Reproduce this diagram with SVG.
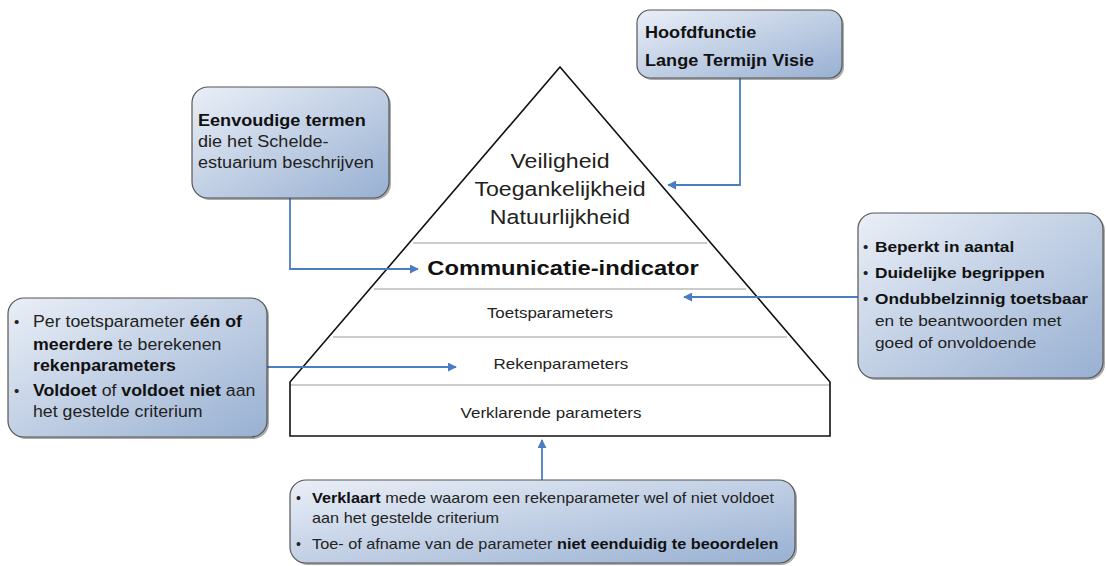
<svg xmlns="http://www.w3.org/2000/svg" width="1106" height="566" viewBox="0 0 1106 566">
<defs>
<linearGradient id="bg" x1="0" y1="0" x2="1" y2="1">
<stop offset="0" stop-color="#eaeff7"/>
<stop offset="1" stop-color="#98b0d2"/>
</linearGradient>
<marker id="ah" viewBox="0 0 10 10" refX="9" refY="5" markerWidth="5" markerHeight="5" orient="auto" markerUnits="strokeWidth">
<path d="M0,0 L10,5 L0,10 z" fill="#4a7cc2"/>
</marker>
</defs>
<style>
.box{fill:url(#bg);stroke:#555;stroke-width:1.2}
.sh{fill:#444;opacity:0.45}
.t{font-family:"Liberation Sans",Arial,sans-serif;fill:#222}
.b{font-weight:bold;fill:#111}
.pl{fill:none;stroke:#111;stroke-width:1.6;stroke-linejoin:miter}
.sep{stroke:#999;stroke-width:1.2}
.con{fill:none;stroke:#4a7cc2;stroke-width:1.8;marker-end:url(#ah)}
</style>
<rect width="1106" height="566" fill="#fff"/>

<g id="pyramid">
<line class="sep" x1="413" y1="243" x2="707" y2="243"/>
<line class="sep" x1="374" y1="289" x2="746" y2="289"/>
<line class="sep" x1="333" y1="337" x2="787" y2="337"/>
<line class="sep" x1="290" y1="385" x2="830" y2="385"/>
<path class="pl" d="M560,67 L830,382 L830,436 L290,436 L290,382 Z"/>
<g transform="matrix(1.13,0,0,1,-72.8,0)">
<text class="t" x="560" y="168" font-size="20.5" text-anchor="middle">Veiligheid</text>
<text class="t" x="560" y="196" font-size="20.5" text-anchor="middle">Toegankelijkheid</text>
<text class="t" x="560" y="224" font-size="20.5" text-anchor="middle">Natuurlijkheid</text>
</g>
<g transform="matrix(1.13,0,0,1,-73.2,0)">
<text class="t b" x="563" y="275" font-size="21" text-anchor="middle">Communicatie-indicator</text>
</g>
<g transform="matrix(1.13,0,0,1,-71.5,0)">
<text class="t" x="550" y="318" font-size="15" text-anchor="middle">Toetsparameters</text>
</g>
<g transform="matrix(1.13,0,0,1,-73,0)">
<text class="t" x="561" y="369" font-size="15" text-anchor="middle">Rekenparameters</text>
</g>
<g transform="matrix(1.13,0,0,1,-71.6,0)">
<text class="t" x="551" y="418" font-size="15" text-anchor="middle">Verklarende parameters</text>
</g>
</g>

<g id="connectors">
<path class="con" d="M740,78 V185 H668"/>
<path class="con" d="M290,198 V269 H418"/>
<path class="con" d="M858,297 H684"/>
<path class="con" d="M267,367 H456"/>
<path class="con" d="M542,480 V440"/>
</g>

<g id="hoofdfunctie">
<rect class="sh" x="639" y="12" width="205" height="68" rx="13"/>
<rect class="box" x="637" y="10" width="205" height="68" rx="13"/>
<g transform="matrix(1.13,0,0,1,-83.85,0)">
<text class="t b" x="645" y="38" font-size="16">Hoofdfunctie</text>
<text class="t b" x="645" y="66" font-size="16">Lange Termijn Visie</text>
</g>
</g>

<g id="eenvoudige">
<rect class="sh" x="194" y="89" width="197" height="111" rx="16"/>
<rect class="box" x="192" y="87" width="197" height="111" rx="16"/>
<g transform="matrix(1.13,0,0,1,-25.74,0)">
<text class="t b" x="198" y="126" font-size="16">Eenvoudige termen</text>
<text class="t" x="198" y="147" font-size="16">die het Schelde-</text>
<text class="t" x="198" y="168" font-size="16">estuarium beschrijven</text>
</g>
</g>

<g id="per-toetsparameter">
<rect class="sh" x="10" y="300" width="259" height="139" rx="16"/>
<rect class="box" x="8" y="298" width="259" height="139" rx="16"/>
<text class="t" x="14" y="327" font-size="15">•</text>
<text class="t" x="14" y="396" font-size="15">•</text>
<g transform="matrix(1.13,0,0,1,-4.29,0)">
<text class="t" x="33" y="327" font-size="15.7">Per toetsparameter <tspan class="b">één of</tspan></text>
<text class="t" x="33" y="350" font-size="15.7"><tspan class="b">meerdere</tspan> te berekenen</text>
<text class="t b" x="33" y="371" font-size="15.7">rekenparameters</text>
<text class="t" x="33" y="396" font-size="15.7"><tspan class="b">Voldoet</tspan> of <tspan class="b">voldoet niet</tspan> aan</text>
<text class="t" x="33" y="417" font-size="15.7">het gestelde criterium</text>
</g>
</g>

<g id="beperkt">
<rect class="sh" x="860" y="215" width="245" height="165" rx="16"/>
<rect class="box" x="858" y="213" width="245" height="165" rx="16"/>
<text class="t" x="863" y="252" font-size="15">•</text>
<text class="t" x="863" y="278" font-size="15">•</text>
<text class="t" x="863" y="304" font-size="15">•</text>
<g transform="matrix(1.13,0,0,1,-113.75,0)">
<text class="t b" x="875" y="252" font-size="15.3">Beperkt in aantal</text>
<text class="t b" x="875" y="278" font-size="15.3">Duidelijke begrippen</text>
<text class="t b" x="875" y="304" font-size="15.3">Ondubbelzinnig toetsbaar</text>
<text class="t" x="875" y="326" font-size="15.3">en te beantwoorden met</text>
<text class="t" x="875" y="348" font-size="15.3">goed of onvoldoende</text>
</g>
</g>

<g id="verklaart">
<rect class="sh" x="292" y="482" width="505" height="83" rx="16"/>
<rect class="box" x="290" y="480" width="505" height="83" rx="16"/>
<text class="t" x="296" y="503" font-size="14">•</text>
<text class="t" x="296" y="549" font-size="14">•</text>
<g transform="matrix(1.13,0,0,1,-40.56,0)">
<text class="t" x="312" y="503" font-size="14.4"><tspan class="b">Verklaart</tspan> mede waarom een rekenparameter wel of niet voldoet</text>
<text class="t" x="312" y="523" font-size="14.4">aan het gestelde criterium</text>
<text class="t" x="312" y="549" font-size="14.4">Toe- of afname van de parameter <tspan class="b">niet eenduidig te beoordelen</tspan></text>
</g>
</g>
</svg>
